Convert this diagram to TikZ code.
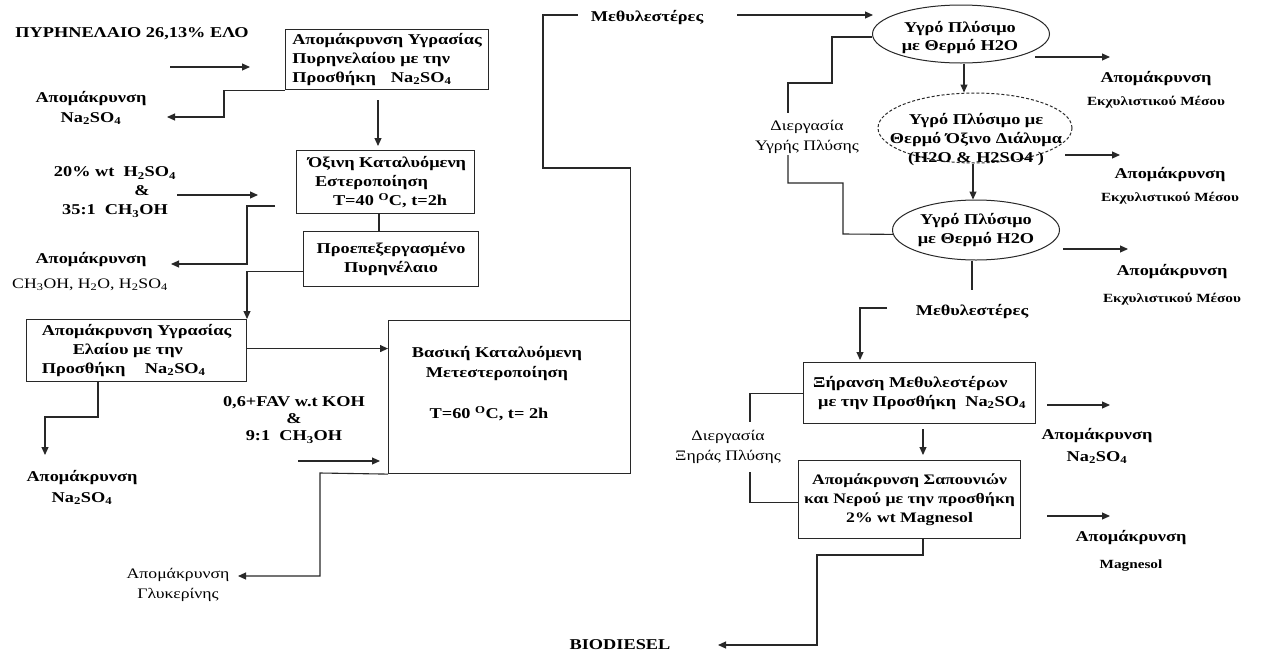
\documentclass[tikz,border=0pt]{standalone}
\usepackage{fontspec}
\setmainfont{Liberation Serif}[FakeStretch=1.22]
\usetikzlibrary{arrows.meta,shapes.geometric}
\newcommand\sbs[1]{\textsubscript{#1}}
\definecolor{ln}{RGB}{40,40,40}
\begin{document}
\begin{tikzpicture}[x=1pt,y=-1pt,
  big/.style={font=\bfseries\fontsize{15}{19}\selectfont},
  reg/.style={font=\fontsize{14.5}{20}\selectfont},
  txt/.style={align=center,inner sep=0pt,text=black},
  procbox/.style={draw=ln,line width=1.1pt,inner sep=0pt,anchor=north west},
  ellnode/.style={draw=ln,ellipse,inner sep=0pt,line width=1pt},
  conn/.style={draw=ln,line width=1.1pt},
  arr/.style={conn,-{Triangle[length=8pt,width=7pt]}}]
\useasboundingbox[fill=white] (0,0) rectangle (1267,654);

% ---------------- left column ----------------
\node[txt,big] (tpyr) at (132,34) {ΠΥΡΗΝΕΛΑΙΟ 26,13\% ΕΛΟ};
\node[procbox,big,align=left,minimum width=203pt,minimum height=60pt] (b1) at (285,29)
  {Απομάκρυνση Υγρασίας\\Πυρηνελαίου με την\\Προσθήκη\quad Na\sbs{2}SO\sbs{4}};
\node[txt,big,font=\bfseries\fontsize{15}{20}\selectfont] (trem1) at (91,108) {Απομάκρυνση\\Na\sbs{2}SO\sbs{4}};
\node[procbox,big,align=left,minimum width=178pt,minimum height=63pt] (b2) at (296,150)
  {\hspace*{3pt}Όξινη Καταλυόμενη\\\hspace*{10pt}Εστεροποίηση\\\hspace*{28pt}T=40 \textsuperscript{O}C, t=2h};
\node[txt,big] (th2) at (115,192) {20\% wt\ \ H\sbs{2}SO\sbs{4}\\\hspace*{54pt}\&\\35:1\ \ CH\sbs{3}OH};
\node[procbox,big,align=center,minimum width=175pt,minimum height=55pt] (b3) at (303,231)
  {Προεπεξεργασμένο\\Πυρηνέλαιο};
\node[txt,big] (trem2a) at (91,260) {Απομάκρυνση};
\node[txt,reg] (trem2b) at (90,285) {CH\sbs{3}OH, H\sbs{2}O, H\sbs{2}SO\sbs{4}};
\node[procbox,big,align=left,minimum width=220pt,minimum height=62pt] (b4) at (26,319)
  {Απομάκρυνση Υγρασίας\\\hspace*{31pt}Ελαίου με την\\Προσθήκη\quad\ Na\sbs{2}SO\sbs{4}};
\node[procbox,minimum width=242pt,minimum height=153pt] (b5) at (388,320) {};
\node[txt,big,font=\bfseries\fontsize{15}{20}\selectfont] (t5) at (497,384)
  {Βασική Καταλυόμενη\\Μετεστεροποίηση\\[21pt]\hspace*{-16pt}T=60 \textsuperscript{O}C, t= 2h};
\node[txt,big,font=\bfseries\fontsize{15}{17}\selectfont] (tkoh) at (294,420)
  {0,6+FAV w.t KOH\\\&\\9:1\ \ CH\sbs{3}OH};
\node[txt,big,font=\bfseries\fontsize{15}{21}\selectfont] (trem3) at (82,487) {Απομάκρυνση\\Na\sbs{2}SO\sbs{4}};
\node[txt,reg] (tgly) at (178,585) {Απομάκρυνση\\Γλυκερίνης};
\node[txt,big] (tbio) at (620,645) {BIODIESEL};
\node[txt,big] (tmeth1) at (647,18) {Μεθυλεστέρες};

% ---------------- right column ----------------
\node[ellnode,minimum width=177pt,minimum height=58pt] (e1) at (961,34) {};
\node[txt,big,font=\bfseries\fontsize{15}{18}\selectfont] (te1) at (960,38) {Υγρό Πλύσιμο\\με Θερμό H2O};
\node[ellnode,densely dashed,minimum width=194pt,minimum height=70pt] (e2) at (975,128) {};
\node[txt,big] (te2) at (976,140) {Υγρό Πλύσιμο με\\Θερμό Όξινο Διάλυμα\\(H2O \& H2SO4 )};
\node[ellnode,minimum width=167pt,minimum height=60pt] (e3) at (976,230) {};
\node[txt,big] (te3) at (976,230) {Υγρό Πλύσιμο\\με Θερμό H2O};

\node[txt,big] (tek1) at (1156,90) {Απομάκρυνση\\[4pt]{\fontsize{12.5}{14}\selectfont Εκχυλιστικού Μέσου}};
\node[txt,big] (tek2) at (1170,186) {Απομάκρυνση\\[4pt]{\fontsize{12.5}{14}\selectfont Εκχυλιστικού Μέσου}};
\node[txt,big] (tek3) at (1172,285) {Απομάκρυνση\\[8pt]{\fontsize{12.5}{14}\selectfont Εκχυλιστικού Μέσου}};
\node[txt,reg] (twet) at (807,137) {Διεργασία\\Υγρής Πλύσης};
\node[txt,big] (tmeth2) at (972,312) {Μεθυλεστέρες};

\node[procbox,big,align=left,minimum width=232pt,minimum height=61pt] (b6) at (803,362)
  {Ξήρανση Μεθυλεστέρων\\\hspace*{5pt}με την Προσθήκη\ \ Na\sbs{2}SO\sbs{4}};
\node[procbox,big,align=center,minimum width=222pt,minimum height=78pt,
  font=\bfseries\fontsize{14.5}{19}\selectfont] (b7) at (798,460)
  {Απομάκρυνση Σαπουνιών\\και Νερού με την προσθήκη\\2\% wt Magnesol};
\node[txt,big,font=\bfseries\fontsize{15}{22}\selectfont] (tna2) at (1097,446) {Απομάκρυνση\\Na\sbs{2}SO\sbs{4}};
\node[txt,big] (tmag) at (1131,551) {Απομάκρυνση\\[8pt]{\fontsize{12.5}{14}\selectfont Magnesol}};
\node[txt,reg] (tdry) at (728,447) {Διεργασία\\Ξηράς Πλύσης};

% ---------------- coordinates ----------------
\coordinate (a1s) at (170,67);  \coordinate (a1e) at (250,67);
\coordinate (r1) at (167,117);
\coordinate (c378) at (378,100);
\coordinate (c379) at (379,0);
\coordinate (a2s) at (177,195); \coordinate (a2e) at (258,195);
\coordinate (l2s) at (275,206); \coordinate (r2) at (171,264);
\coordinate (c247) at (247,0);
\coordinate (c98) at (98,0);
\coordinate (r3) at (45,455);
\coordinate (a3s) at (298,461); \coordinate (a3e) at (380,461);
\coordinate (r4) at (238,576);
\coordinate (m1s) at (578,15);
\coordinate (a4s) at (737,15); \coordinate (a4e) at (873,15);
\coordinate (wt1) at (788,113); \coordinate (wt2) at (788,155);
\coordinate (ek1s) at (1035,57); \coordinate (ek1e) at (1110,57);
\coordinate (ek2s) at (1065,155); \coordinate (ek2e) at (1120,155);
\coordinate (ek3s) at (1063,249); \coordinate (ek3e) at (1128,249);
\coordinate (e3end) at (972,290);
\coordinate (m2s) at (887,308);
\coordinate (c860) at (860,0);
\coordinate (c923) at (923,0);
\coordinate (na1s) at (1047,405); \coordinate (na1e) at (1110,405);
\coordinate (mg1s) at (1047,516); \coordinate (mg1e) at (1110,516);
\coordinate (dw1) at (750,422); \coordinate (dw2) at (750,472);
\coordinate (rb) at (718,645);

% ---------------- connectors ----------------
\draw[arr] (a1s) -- (a1e);
\draw[arr] (b1.south west) -- ++(-61,0) |- (r1);
\draw[arr,shorten >=4pt] (c378) -- (c378 |- b2.north);
\draw[conn,line width=2pt] (b2.south -| c379) -- (b3.north -| c379);
\draw[arr] (a2s) -- (a2e);
\draw[arr] (l2s) -- (247,206) |- (r2);
\draw[arr] ([yshift=-12pt]b3.west) -| (b4.north -| c247);
\draw[arr] ([yshift=2pt]b4.east) -- ([yshift=2pt]b4.east -| b5.west);
\draw[arr] (b4.south -| c98) -- (98,417) -| (r3);
\draw[arr] (a3s) -- (a3e);
\draw[arr] (b5.south west) -- (320,473) |- (r4);
\draw[conn] ([xshift=-1pt]b5.north east) |- (543,168) |- (m1s);
\draw[arr] (a4s) -- (a4e);

\draw[conn] ([yshift=-3pt]e1.west) -- (832,37) |- (788,83) -- (wt1);
\draw[conn] (wt2) -- (788,183) -| (843,234) -- (e3.183);
\draw[arr] ([xshift=3pt]e1.south) -- ([xshift=3pt]e1.south |- e2.north);
\draw[arr] ([xshift=-2pt]e2.south) -- ([xshift=-2pt]e2.south |- e3.north);
\draw[conn] (e3end |- e3.south) -- (e3end);
\draw[arr] (ek1s) -- (ek1e);
\draw[arr] (ek2s) -- (ek2e);
\draw[arr] (ek3s) -- (ek3e);

\draw[arr,shorten >=2pt] (m2s) -| (b6.north -| c860);
\draw[arr] (na1s) -- (na1e);
\draw[arr] ([yshift=-5pt]b6.south -| c923) -- ([yshift=5pt]b7.north -| c923);
\draw[arr] (mg1s) -- (mg1e);
\draw[conn] (b6.west) -| (dw1);
\draw[conn] (dw2) |- ([yshift=-3pt]b7.west);
\draw[arr] (b7.south -| c923) |- (817,555) |- (rb);
\end{tikzpicture}
\end{document}
